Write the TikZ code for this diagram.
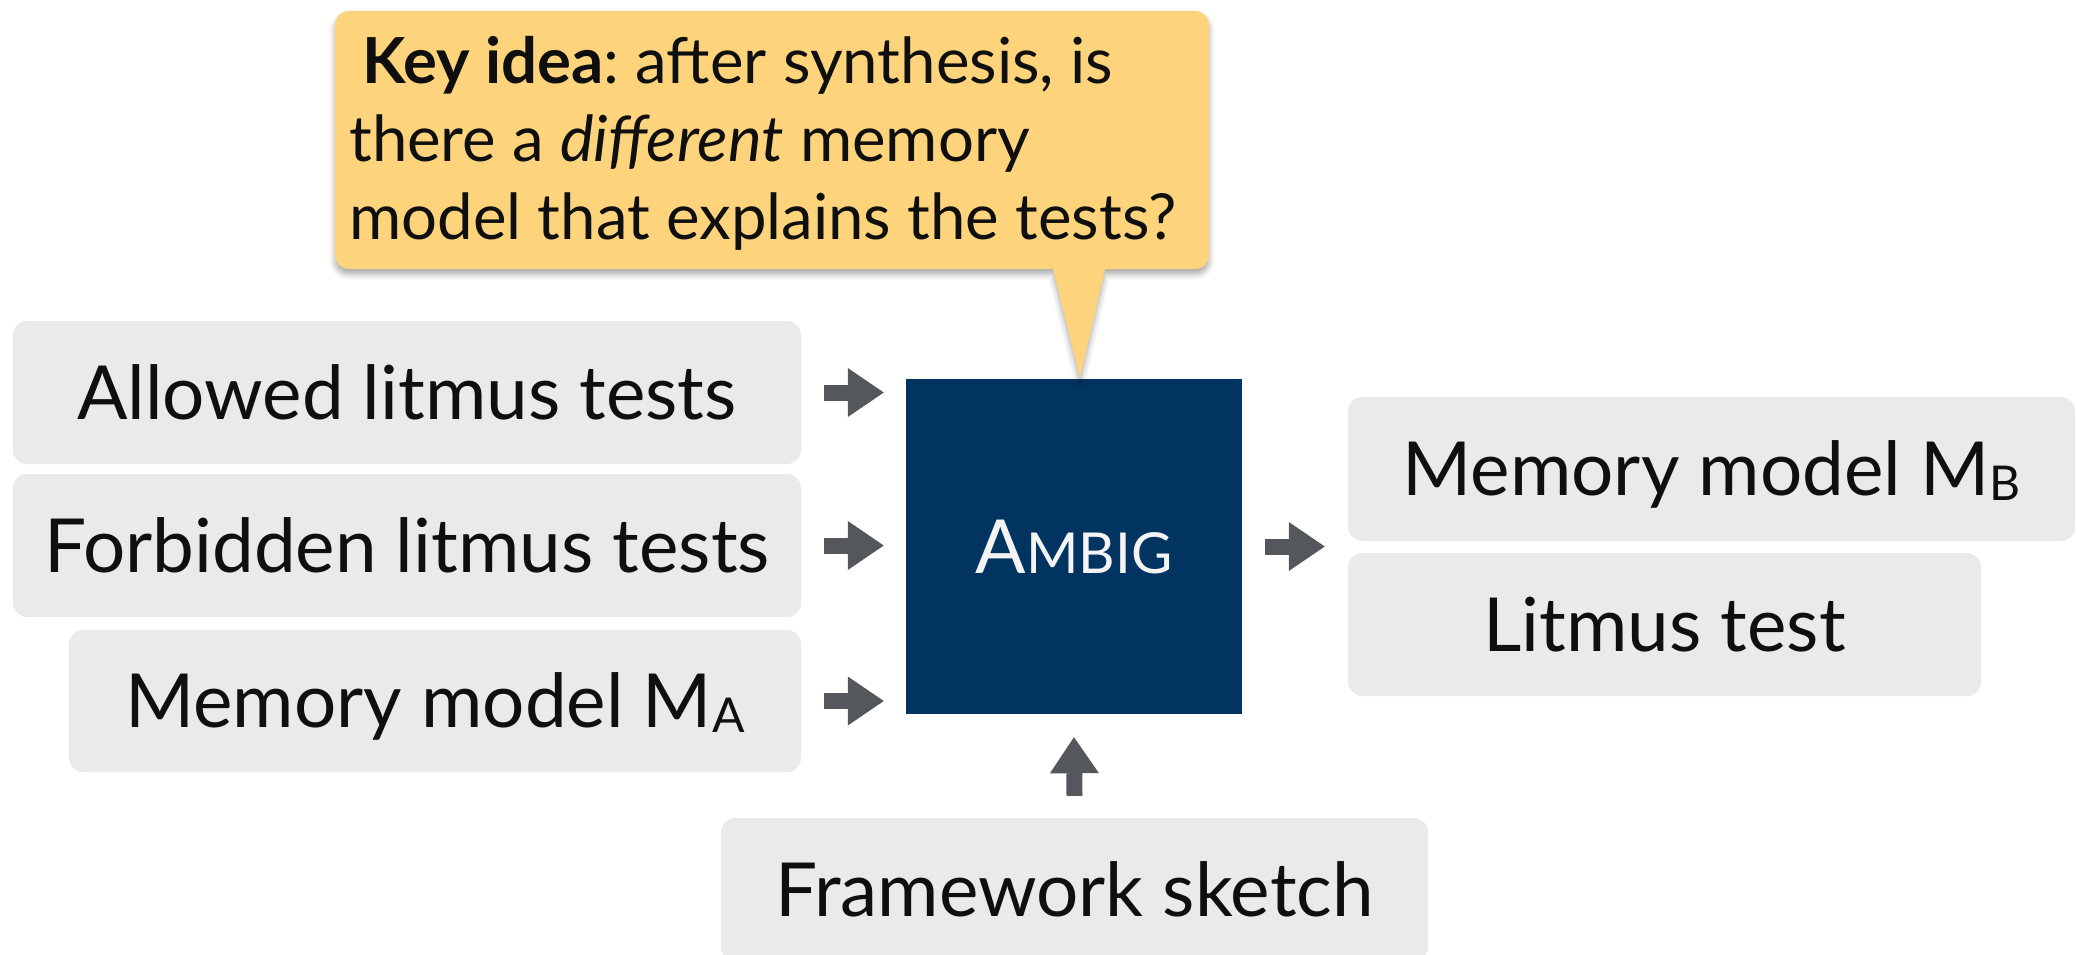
\documentclass[tikz,border=0pt]{standalone}
\usepackage{fontspec}
\setmainfont{Lato}
\usetikzlibrary{arrows.meta,shadows.blur,calc}
\frenchspacing

\definecolor{panel}{HTML}{EAEAEA}
\definecolor{note}{HTML}{FDD47B}
\definecolor{navy}{HTML}{023462}
\definecolor{arrowgray}{HTML}{54575C}
\definecolor{ink}{HTML}{0F0F0F}
\definecolor{paleink}{HTML}{F4F4F4}

% lowered, smaller letter used as a model index (M_A, M_B)
\newcommand\modelidx[1]{\raisebox{-5pt}{\fontsize{48}{50}\selectfont #1}}

\tikzset{
  panelbox/.style={fill=panel, rounded corners=14pt, inner sep=0pt, text=ink,
    font=\fontsize{74.6}{90}\selectfont, text height=53.4pt, text depth=0pt},
  corebox/.style={fill=navy, inner sep=0pt, text=paleink,
    text height=53pt, text depth=0pt},
  notetext/.style={anchor=base west, inner sep=0pt, text=ink,
    font=\fontsize{63.5}{70}\selectfont},
  blockarrow/.style={draw=arrowgray, line width=16pt,
    -{Triangle[length=36pt, width=49pt, line width=0pt, fill=arrowgray]}},
}

\begin{document}
\begin{tikzpicture}[x=1pt,y=-1pt]
\useasboundingbox (0,0) rectangle (2077,955);

% input boxes
\node[panelbox, minimum width=788pt, minimum height=143pt] (allowed) at (407,392.5) {Allowed litmus tests};
\node[panelbox, minimum width=788pt, minimum height=143pt] (forbidden) at (407,545.5) {Forbidden litmus tests};
\node[panelbox, minimum width=732pt, minimum height=142pt] (memA) at (435,701) {Memory model M\modelidx{A}};

% the synthesis engine
\node[corebox, minimum width=336pt, minimum height=335pt] (ambig) at (1074,546.5)
  {{\fontsize{74.6}{80}\selectfont A}{\fontsize{56.5}{60}\selectfont MBIG}};

% outputs
\node[panelbox, minimum width=727pt, minimum height=144pt] (memB) at (1711.5,469) {Memory model M\modelidx{B}};
\node[panelbox, minimum width=633pt, minimum height=143pt] (litmus) at (1664.5,624.5) {Litmus test};

% framework input from below
\node[panelbox, minimum width=707pt, minimum height=143pt] (framework) at (1074.5,889.5) {Framework sketch};

% block arrows
\draw[blockarrow] ($(allowed.east)+(23,0)$) -- ($(ambig.west |- allowed.east)+(-22,0)$);
\draw[blockarrow] ($(forbidden.east)+(23,0)$) -- ($(ambig.west |- forbidden.east)+(-22,0)$);
\draw[blockarrow] ($(memA.east)+(23,0)$) -- ($(ambig.west |- memA.east)+(-22,0)$);
\draw[blockarrow] ($(ambig.east)+(23,0)$) -- ($(memB.west |- ambig.east)+(-23,0)$);
\draw[blockarrow] ($(framework.north)+(0,-22)$) -- ($(ambig.south)+(0,23)$);

% speech balloon pointing at the engine
\path[fill=note, blur shadow={shadow xshift=0pt, shadow yshift=-5pt, shadow blur radius=6pt, shadow opacity=35}]
  (335,140) [rounded corners=14pt] -- (335,11) -- (1209,11) -- (1209,269) -- (1150,269)
  [sharp corners] -- (1105,269) -- ($(ambig.north)+(6,-1)$) -- (1053,269) -- (1000,269)
  [rounded corners=14pt] -- (335,269) -- cycle;

\node[notetext] (note1) at (362,84) {\textbf{Key idea}: after synthesis, is};
\node[notetext] (note2) at (349,161.5) {there a \textit{different} memory};
\node[notetext] (note3) at (349,239) {model that explains the tests?};
\end{tikzpicture}
\end{document}
